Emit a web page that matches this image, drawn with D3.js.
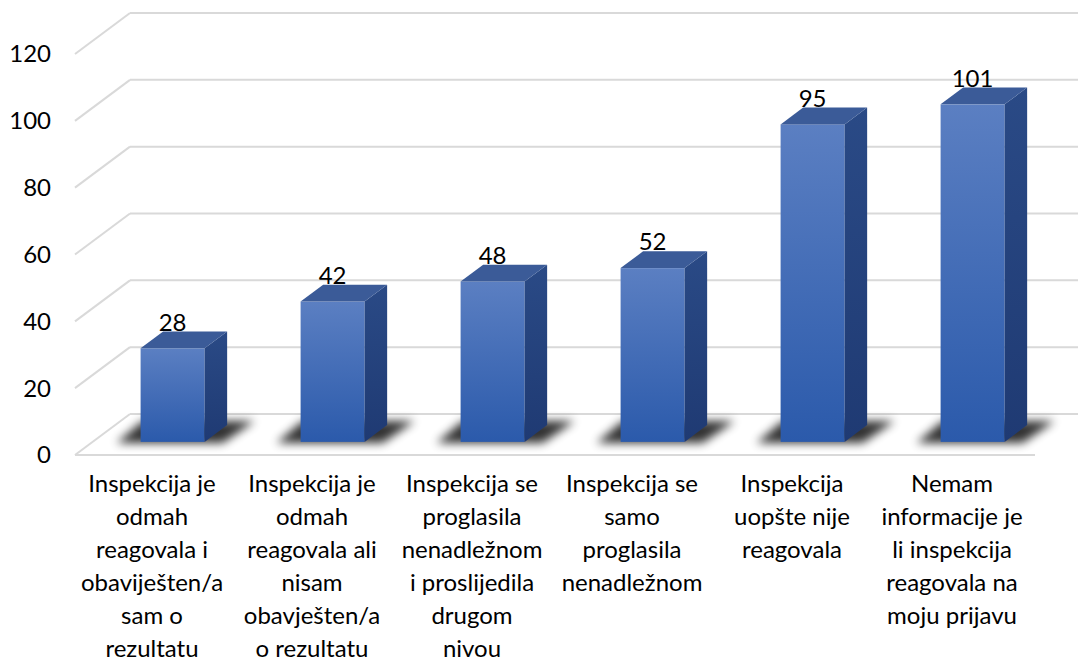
<!DOCTYPE html>
<html>
<head>
<meta charset="utf-8">
<script src="https://cdn.jsdelivr.net/npm/d3@7"></script>
<style>
  body { margin: 0; background: #fff; }
  text { font-family: Lato, "Open Sans", sans-serif; fill: #000; }
</style>
</head>
<body>
<script>
// categories (x-axis labels, already broken into lines as in the picture)
var categories = ["c1", "c2", "c3", "c4", "c5", "c6"];
var catLines = [
  ["Inspekcija je", "odmah", "reagovala i", "obaviješten/a", "sam o", "rezultatu"],
  ["Inspekcija je", "odmah", "reagovala ali", "nisam", "obavješten/a", "o rezultatu"],
  ["Inspekcija se", "proglasila", "nenadležnom", "i proslijedila", "drugom", "nivou"],
  ["Inspekcija se", "samo", "proglasila", "nenadležnom"],
  ["Inspekcija", "uopšte nije", "reagovala"],
  ["Nemam", "informacije je", "li inspekcija", "reagovala na", "moju prijavu"]
];
var values = [28, 42, 48, 52, 95, 101];
var yTicks = [0, 20, 40, 60, 80, 100, 120];

var width = 1078, height = 664;

// front plane of the 3d box
var x = d3.scaleBand()
    .domain(categories)
    .range([75, 1035])
    .paddingInner(0.6)
    .paddingOuter(0.3);
var y = d3.scaleLinear()
    .domain([0, 120])
    .range([455, 54]);

// depth offset: full depth of box
var depthX = 55, depthY = -41;
var barFront = 0.32, barBack = 0.73;

var svg = d3.select("body").append("svg")
    .attr("width", width)
    .attr("height", height);

var defs = svg.append("defs");
var grad = defs.append("linearGradient")
    .attr("id", "frontGrad")
    .attr("x1", 0).attr("y1", 0).attr("x2", 0).attr("y2", 1);
grad.append("stop").attr("offset", "0%").attr("stop-color", "#5b7fc2");
grad.append("stop").attr("offset", "100%").attr("stop-color", "#2b5aab");

var sideGrad = defs.append("linearGradient")
    .attr("id", "sideGrad")
    .attr("x1", 0).attr("y1", 0).attr("x2", 0).attr("y2", 1);
sideGrad.append("stop").attr("offset", "0%").attr("stop-color", "#2a4a86");
sideGrad.append("stop").attr("offset", "100%").attr("stop-color", "#1f3a73");

defs.append("filter")
    .attr("id", "blur")
    .attr("x", "-50%").attr("y", "-100%")
    .attr("width", "200%").attr("height", "300%")
  .append("feGaussianBlur")
    .attr("stdDeviation", 5);

// gridlines: back wall + diagonal on left wall
var grid = svg.append("g")
    .attr("stroke", "#d9d9d9")
    .attr("stroke-width", 2)
    .attr("fill", "none");

grid.selectAll(".back")
    .data(yTicks)
  .enter().append("line")
    .attr("x1", 75 + depthX)
    .attr("x2", width)
    .attr("y1", function(d) { return y(d) + depthY; })
    .attr("y2", function(d) { return y(d) + depthY; });

grid.selectAll(".diag")
    .data(yTicks)
  .enter().append("line")
    .attr("x1", 75)
    .attr("x2", 75 + depthX)
    .attr("y1", function(d) { return y(d); })
    .attr("y2", function(d) { return y(d) + depthY; });

// front edge of floor
grid.append("line")
    .attr("x1", 75).attr("x2", 1035)
    .attr("y1", y(0)).attr("y2", y(0));

// y labels
svg.selectAll(".ylab")
    .data(yTicks)
  .enter().append("text")
    .attr("x", 51)
    .attr("y", function(d) { return y(d); })
    .attr("dy", "0.35em")
    .attr("text-anchor", "end")
    .style("font-size", "24px")
    .text(function(d) { return d; });

// bars
var bars = svg.selectAll(".bar")
    .data(values)
  .enter().append("g")
    .attr("class", "bar");

function fx(i, t) { return x(categories[i]) + depthX * t; }
function fy(v, t) { return y(v) + depthY * t; }

// shadow on the floor
bars.append("path")
    .attr("filter", "url(#blur)")
    .attr("fill", "#000")
    .attr("opacity", 0.8)
    .attr("d", function(d, i) {
      var l = fx(i, barFront) - 24, r = fx(i, barFront) + x.bandwidth() + 18;
      var b = fy(0, barFront) + 1, t = fy(0, barBack) - 4;
      return "M" + l + "," + b + "L" + r + "," + b + "L" + (r + 32) + "," + t + "L" + (l + 26) + "," + t + "Z";
    });

// front face
bars.append("rect")
    .attr("x", function(d, i) { return fx(i, barFront); })
    .attr("y", function(d) { return fy(d, barFront); })
    .attr("width", x.bandwidth())
    .attr("height", function(d) { return fy(0, barFront) - fy(d, barFront); })
    .attr("fill", "url(#frontGrad)");

// right side
bars.append("path")
    .attr("fill", "url(#sideGrad)")
    .attr("d", function(d, i) {
      var r0 = fx(i, barFront) + x.bandwidth(), r1 = fx(i, barBack) + x.bandwidth();
      return "M" + r0 + "," + fy(d, barFront) +
             "L" + r1 + "," + fy(d, barBack) +
             "L" + r1 + "," + fy(0, barBack) +
             "L" + r0 + "," + fy(0, barFront) + "Z";
    });

// top
bars.append("path")
    .attr("fill", "#3b5b98")
    .attr("d", function(d, i) {
      var l0 = fx(i, barFront), l1 = fx(i, barBack), w = x.bandwidth();
      return "M" + l0 + "," + fy(d, barFront) +
             "L" + l1 + "," + fy(d, barBack) +
             "L" + (l1 + w) + "," + fy(d, barBack) +
             "L" + (l0 + w) + "," + fy(d, barFront) + "Z";
    });

// value labels
bars.append("text")
    .attr("x", function(d, i) { return fx(i, barFront) + x.bandwidth() / 2; })
    .attr("y", function(d) { return fy(d, barBack) - 1; })
    .attr("text-anchor", "middle")
    .style("font-size", "24px")
    .text(function(d) { return d; });

// category labels
var cat = svg.selectAll(".cat")
    .data(catLines)
  .enter().append("text")
    .attr("text-anchor", "middle")
    .style("font-size", "24px");

cat.selectAll("tspan")
    .data(function(d, i) { return d.map(function(s) { return {s: s, i: i}; }); })
  .enter().append("tspan")
    .attr("x", function(d) { return x(categories[d.i]) + x.bandwidth() / 2 - 3; })
    .attr("y", function(d, j) { return 492 + j * 33; })
    .text(function(d) { return d.s; });
</script>
</body>
</html>
